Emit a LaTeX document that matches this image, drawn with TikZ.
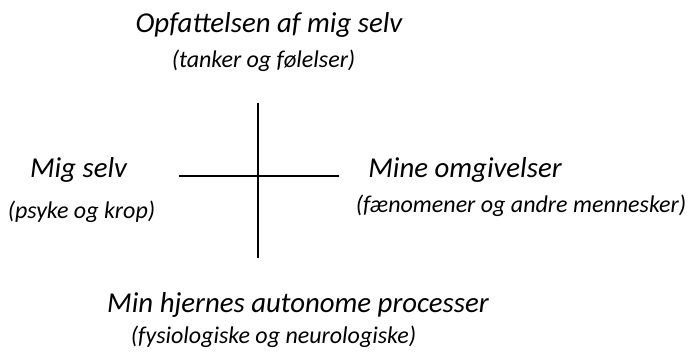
\documentclass[tikz,border=0pt]{standalone}
\usepackage{fontspec}
\setmainfont{Carlito}
\tikzset{
  big/.style={inner sep=0pt, anchor=base, font=\fontsize{28.8}{34}\selectfont\itshape},
  small/.style={inner sep=0pt, anchor=base, font=\fontsize{24}{28}\selectfont\itshape},
  axis/.style={line width=2.2pt, black}
}
\begin{document}
\begin{tikzpicture}[x=1pt,y=-1pt]
\useasboundingbox (0,0) rectangle (690,353);
\node[big] (top) at (269,33) {Opfattelsen af mig selv};
\node[small] (topsub) at (263.5,67) {(tanker og følelser)};
\node[big] (left) at (78.5,177) {Mig selv};
\node[small] (leftsub) at (81.5,218) {(psyke og krop)};
\node[big] (right) at (465,177) {Mine omgivelser};
\node[small] (rightsub) at (521,212) {(fænomener og andre mennesker)};
\node[big] (bottom) at (298,312) {Min hjernes autonome processer};
\node[small] (bottomsub) at (273.5,343) {(fysiologiske og neurologiske)};
\coordinate (vt) at (258,103);
\coordinate (vb) at (258,258);
\coordinate (hl) at (179,176);
\coordinate (hr) at (339,176);
\draw[axis] (vt) -- (vb);
\draw[axis] (hl) -- (hr);
\end{tikzpicture}
\end{document}
